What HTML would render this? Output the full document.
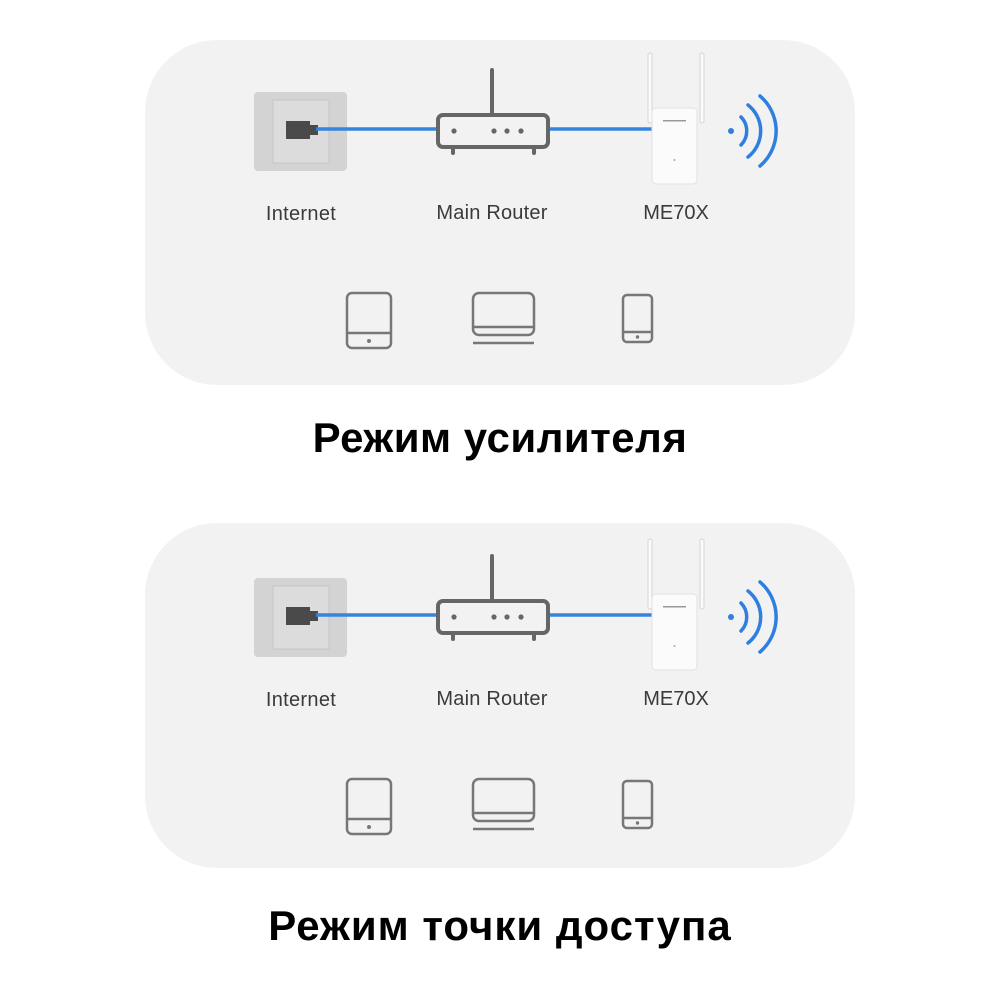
<!DOCTYPE html>
<html><head><meta charset="utf-8"><style>
html,body{margin:0;padding:0;background:#fff;width:1000px;height:1000px;overflow:hidden}
svg{display:block}
text{font-family:"Liberation Sans",sans-serif}
</style></head><body>
<svg width="1000" height="1000" viewBox="0 0 1000 1000" xmlns="http://www.w3.org/2000/svg">
<defs>
<g id="scene">
  <rect x="254" y="92" width="93" height="79" rx="4" fill="#d3d3d3"/>
  <rect x="273" y="100" width="56" height="63" fill="#dcdcdc" stroke="#c6c6c6" stroke-width="1"/>
  <rect x="286" y="121" width="24" height="18" fill="#4a4a4a"/>
  <rect x="309" y="125" width="9" height="10" fill="#4a4a4a"/>
  <line x1="316" y1="129" x2="438" y2="129" stroke="#3584e0" stroke-width="3.5"/>
  <line x1="548" y1="129" x2="653" y2="129" stroke="#3584e0" stroke-width="3.5"/>
  <line x1="492" y1="70" x2="492" y2="115" stroke="#666" stroke-width="4" stroke-linecap="round"/>
  <rect x="438" y="115" width="110" height="32" rx="5" fill="none" stroke="#666" stroke-width="4"/>
  <line x1="453" y1="147" x2="453" y2="153" stroke="#666" stroke-width="4" stroke-linecap="round"/>
  <line x1="534" y1="147" x2="534" y2="153" stroke="#666" stroke-width="4" stroke-linecap="round"/>
  <circle cx="454" cy="131" r="2.6" fill="#666"/>
  <circle cx="494" cy="131" r="2.6" fill="#666"/>
  <circle cx="507" cy="131" r="2.6" fill="#666"/>
  <circle cx="521" cy="131" r="2.6" fill="#666"/>
  <rect x="648" y="53" width="4" height="70" rx="2" fill="#fafafa" stroke="#d6d6d6" stroke-width="1"/>
  <rect x="700" y="53" width="4" height="70" rx="2" fill="#fafafa" stroke="#d6d6d6" stroke-width="1"/>
  <rect x="652" y="108" width="45" height="76" rx="4" fill="#fbfbfb" stroke="#e2e2e2" stroke-width="1"/>
  <rect x="663" y="120" width="23" height="1.5" fill="#999"/>
  <circle cx="674.5" cy="160" r="1" fill="#aaa"/>
  <circle cx="731" cy="131" r="3" fill="#2e7fe0"/>
  <path d="M741,117 A20,20 0 0 1 741,145" fill="none" stroke="#2e7fe0" stroke-width="3.5" stroke-linecap="round"/>
  <path d="M748,105 A33,33 0 0 1 748,157" fill="none" stroke="#2e7fe0" stroke-width="3.5" stroke-linecap="round"/>
  <path d="M760,96 A46,46 0 0 1 760,166" fill="none" stroke="#2e7fe0" stroke-width="3.5" stroke-linecap="round"/>
  <text x="301" y="220" font-size="20" fill="#3a3a3a" text-anchor="middle" letter-spacing="0.3">Internet</text>
  <text x="492" y="219" font-size="20" fill="#3a3a3a" text-anchor="middle" letter-spacing="0.2">Main Router</text>
  <text x="676" y="219" font-size="20" fill="#3a3a3a" text-anchor="middle">ME70X</text>
  <rect x="347" y="293" width="44" height="55" rx="5" fill="none" stroke="#777" stroke-width="2.5"/>
  <line x1="347" y1="333" x2="391" y2="333" stroke="#777" stroke-width="2.5"/>
  <circle cx="369" cy="341" r="2" fill="#777"/>
  <rect x="473" y="293" width="61" height="42" rx="6" fill="none" stroke="#777" stroke-width="2.5"/>
  <line x1="473" y1="327" x2="534" y2="327" stroke="#777" stroke-width="2.5"/>
  <line x1="473" y1="343" x2="534" y2="343" stroke="#777" stroke-width="2.5"/>
  <rect x="623" y="295" width="29" height="47" rx="4" fill="none" stroke="#777" stroke-width="2.5"/>
  <line x1="623" y1="332" x2="652" y2="332" stroke="#777" stroke-width="2.5"/>
  <circle cx="637.5" cy="337" r="1.7" fill="#777"/>
</g>
</defs>
<rect x="145" y="40" width="710" height="345" rx="72" fill="#f2f2f2"/>
<use href="#scene"/>
<text x="500" y="452" font-size="42" font-weight="bold" fill="#000" text-anchor="middle" letter-spacing="0.5">Режим усилителя</text>
<rect x="145" y="523" width="710" height="345" rx="72" fill="#f2f2f2"/>
<use href="#scene" transform="translate(0,486)"/>
<text x="500" y="940" font-size="42" font-weight="bold" fill="#000" text-anchor="middle" letter-spacing="1">Режим точки доступа</text>
</svg>
</body></html>
